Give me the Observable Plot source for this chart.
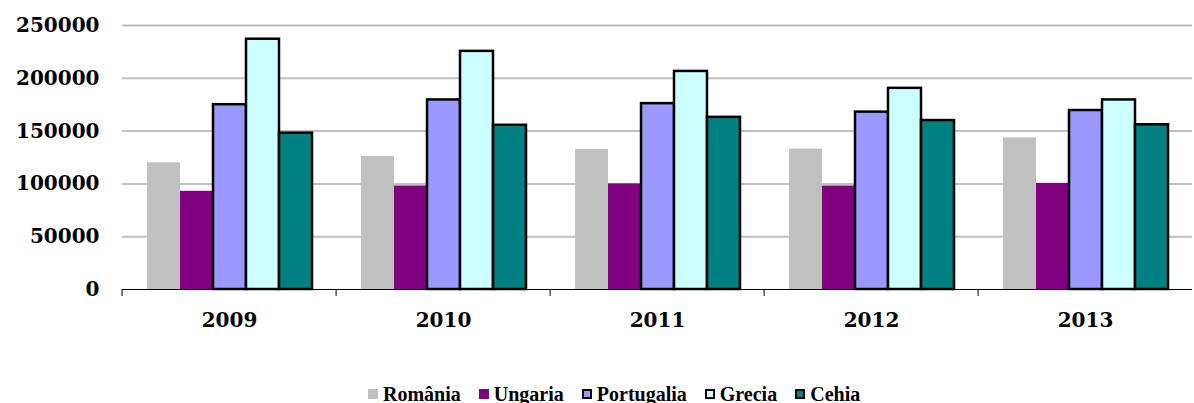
<!DOCTYPE html>
<html>
<head>
<meta charset="utf-8">
<script src="https://cdn.jsdelivr.net/npm/d3@7"></script>
<script src="https://cdn.jsdelivr.net/npm/@observablehq/plot@0.6"></script>
<style>
  html, body { margin: 0; padding: 0; background: #fff; }
  #legend { position: relative; height: 53px; width: 1194px; }
  #legend .items { position: absolute; left: 368px; top: 34px; display: flex; align-items: center; gap: 18px;
    font-family: "Liberation Serif", serif; font-weight: bold; font-size: 20px; line-height: 20px; color: #000; white-space: nowrap; }
  #legend .item { display: flex; align-items: center; gap: 5px; }
  #legend .sw { width: 10px; height: 10px; box-sizing: border-box; display: inline-block; }
</style>
</head>
<body>
<div id="chart"></div>
<div id="legend"><div class="items"></div></div>
<script>
const years = ["2009", "2010", "2011", "2012", "2013"];
const seriesNames = ["România", "Ungaria", "Portugalia", "Grecia", "Cehia"];
const romania    = [120000, 126000, 132500, 133000, 143500];
const ungaria    = [ 93000,  98000, 100000,  98000, 100500];
const portugalia = [175000, 179500, 176000, 168000, 169500];
const grecia     = [237000, 225500, 206500, 190500, 179500];
const cehia      = [148000, 155500, 163000, 160000, 156000];
const yTicks = [0, 50000, 100000, 150000, 200000, 250000];
const gridTicks = [50000, 100000, 150000, 200000, 250000];
const seriesColors = ["#C0C0C0", "#800080", "#9999FF", "#CCFFFF", "#008080"];
const bordered = ["Portugalia", "Grecia", "Cehia"];

const seriesValues = [romania, ungaria, portugalia, grecia, cehia];
const data = [];
years.forEach((y, i) => seriesNames.forEach((s, j) => data.push({year: y, series: s, value: seriesValues[j][i]})));

const W = 1194, ML = 120, MR = 0;
const facetW = (W - ML - MR) / years.length;

const chart = Plot.plot({
  width: W,
  height: 350,
  marginLeft: ML,
  marginRight: MR,
  marginTop: 25,
  marginBottom: 61,
  style: {fontFamily: "'DejaVu Serif', serif", fontWeight: "bold", fontSize: "20px", color: "#000", background: "#fff"},
  fx: {domain: years, padding: 0, label: null},
  x: {domain: seriesNames, paddingInner: 0, paddingOuter: 0.735, axis: null},
  y: {domain: [0, 250000], label: null},
  color: {domain: seriesNames, range: seriesColors},
  marks: [
    Plot.ruleY(gridTicks, {stroke: "#C0C0C0", strokeWidth: 2}),
    Plot.barY(data.filter(d => !bordered.includes(d.series)), {fx: "year", x: "series", y: "value", fill: "series"}),
    Plot.barY(data.filter(d => bordered.includes(d.series)), {fx: "year", x: "series", y: "value", fill: "series", stroke: "#000", strokeWidth: 2.5}),
    Plot.ruleY([0], {stroke: "#000", strokeWidth: 1}),
    Plot.axisY({ticks: yTicks, tickSize: 0, tickPadding: 23, tickFormat: d => String(d), label: null}),
    Plot.axisFx({anchor: "bottom", tickSize: 7, tickFormat: () => "", dx: -facetW / 2, stroke: "#000", label: null}),
    Plot.axisFx({anchor: "bottom", tickSize: 0, tickPadding: 23, label: null})
  ]
});
document.getElementById("chart").appendChild(chart);

const items = document.querySelector("#legend .items");
seriesNames.forEach((s, j) => {
  const it = document.createElement("div");
  it.className = "item";
  const sw = document.createElement("span");
  sw.className = "sw";
  sw.style.background = seriesColors[j];
  if (bordered.includes(s)) sw.style.border = "2px solid #000";
  const t = document.createElement("span");
  t.textContent = s;
  it.appendChild(sw);
  it.appendChild(t);
  items.appendChild(it);
});
</script>
</body>
</html>
